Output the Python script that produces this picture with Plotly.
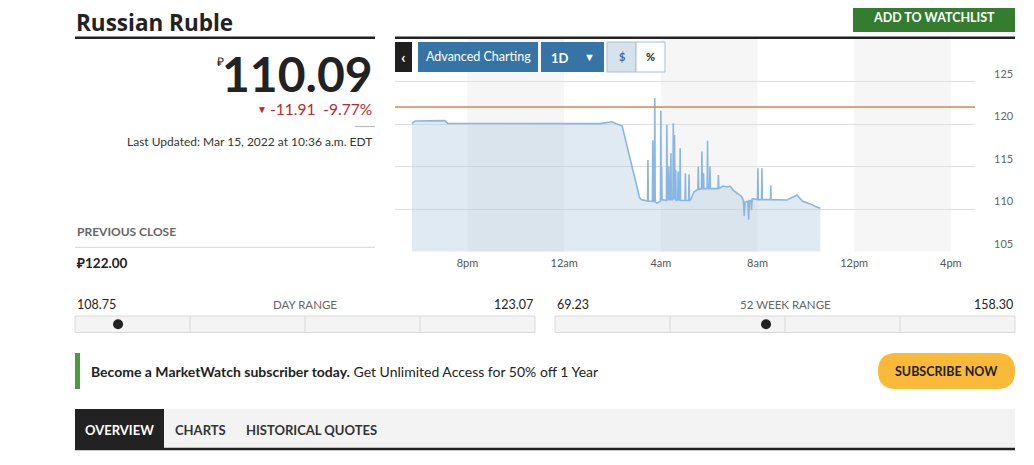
import plotly.graph_objects as go

W, H = 1034, 465
OFF = 8  # the page body margin pushes the figure 8px right and down

# price series, Mar 14 evening to Mar 15 morning
times = [
    "2022-03-14 17:42", "2022-03-14 17:50", "2022-03-14 19:04", "2022-03-14 19:11",
    "2022-03-15 01:30", "2022-03-15 01:58", "2022-03-15 02:24", "2022-03-15 03:07",
    "2022-03-15 03:12", "2022-03-15 03:20", "2022-03-15 03:27", "2022-03-15 03:28",
    "2022-03-15 03:29", "2022-03-15 03:39", "2022-03-15 03:40", "2022-03-15 03:41",
    "2022-03-15 03:44", "2022-03-15 03:45", "2022-03-15 03:46", "2022-03-15 03:50",
    "2022-03-15 03:59", "2022-03-15 04:00", "2022-03-15 04:01", "2022-03-15 04:02",
    "2022-03-15 04:03", "2022-03-15 04:04", "2022-03-15 04:14", "2022-03-15 04:15",
    "2022-03-15 04:16", "2022-03-15 04:19", "2022-03-15 04:20", "2022-03-15 04:21",
    "2022-03-15 04:24", "2022-03-15 04:25", "2022-03-15 04:26", "2022-03-15 04:30",
    "2022-03-15 04:31", "2022-03-15 04:32", "2022-03-15 04:34", "2022-03-15 04:35",
    "2022-03-15 04:37", "2022-03-15 04:38", "2022-03-15 04:42", "2022-03-15 04:43",
    "2022-03-15 04:44", "2022-03-15 04:47", "2022-03-15 04:48", "2022-03-15 04:49",
    "2022-03-15 05:00", "2022-03-15 05:01", "2022-03-15 05:02", "2022-03-15 05:09",
    "2022-03-15 05:10", "2022-03-15 05:11", "2022-03-15 05:14", "2022-03-15 05:22",
    "2022-03-15 05:28", "2022-03-15 05:32", "2022-03-15 05:33", "2022-03-15 05:34",
    "2022-03-15 05:41", "2022-03-15 05:42", "2022-03-15 05:43", "2022-03-15 05:45",
    "2022-03-15 05:46", "2022-03-15 05:47", "2022-03-15 05:55", "2022-03-15 05:56",
    "2022-03-15 05:57", "2022-03-15 06:01", "2022-03-15 06:02", "2022-03-15 06:03",
    "2022-03-15 06:22", "2022-03-15 06:23", "2022-03-15 06:24", "2022-03-15 06:35",
    "2022-03-15 06:45", "2022-03-15 06:52", "2022-03-15 07:00", "2022-03-15 07:10",
    "2022-03-15 07:20", "2022-03-15 07:25", "2022-03-15 07:27", "2022-03-15 07:29",
    "2022-03-15 07:36", "2022-03-15 07:38", "2022-03-15 07:40", "2022-03-15 07:44",
    "2022-03-15 07:45", "2022-03-15 07:47", "2022-03-15 08:00", "2022-03-15 08:01",
    "2022-03-15 08:02", "2022-03-15 08:10", "2022-03-15 08:11", "2022-03-15 08:12",
    "2022-03-15 08:32", "2022-03-15 08:33", "2022-03-15 08:34", "2022-03-15 09:13",
    "2022-03-15 09:38", "2022-03-15 09:52", "2022-03-15 10:11", "2022-03-15 10:24",
    "2022-03-15 10:36",
]
prices = [
    120.08, 120.35, 120.40, 120.08,
    120.05, 120.27, 119.76, 111.38,
    111.10, 111.00, 110.95, 115.76,
    110.95, 110.90, 118.10, 110.90,
    110.95, 123.07, 110.85, 110.70,
    110.90, 121.57, 111.00, 114.98,
    111.00, 111.10, 111.00, 119.88,
    111.10, 111.10, 115.00, 111.10,
    111.10, 116.55, 111.10, 111.10,
    120.08, 111.20, 118.70, 111.10,
    114.60, 111.00, 111.10, 114.40,
    111.10, 111.00, 117.14, 111.00,
    111.00, 114.20, 111.00, 111.00,
    114.10, 111.00, 111.06, 112.00,
    112.20, 112.30, 114.98, 112.30,
    112.40, 116.75, 112.40, 112.40,
    114.20, 112.40, 112.40, 118.04,
    112.40, 112.40, 115.00, 112.40,
    112.40, 114.00, 112.45, 112.70,
    112.60, 112.70, 112.20, 111.84,
    111.50, 111.06, 109.18, 110.80,
    110.90, 108.75, 111.00, 111.00,
    109.88, 111.20, 111.10, 114.80,
    111.10, 111.10, 114.80, 111.10,
    111.10, 112.75, 111.10, 111.06,
    111.65, 110.90, 110.60, 110.30,
    110.09,
]

previous_close = 122.00
last_price = 110.09
change = -11.91
change_pct = -9.77
day_low, day_high = 108.75, 123.07
week52_low, week52_high = 69.23, 158.30

x_range = ["2022-03-14 17:00", "2022-03-15 17:00"]
x_tickvals = ["2022-03-14 20:00", "2022-03-15 00:00", "2022-03-15 04:00",
              "2022-03-15 08:00", "2022-03-15 12:00", "2022-03-15 16:00"]
x_ticktext = ["8pm", "12am", "4am", "8am", "12pm", "4pm"]
y_tickvals = [105, 110, 115, 120, 125]
bands = [("2022-03-14 20:00", "2022-03-15 00:00"),
         ("2022-03-15 04:00", "2022-03-15 08:00"),
         ("2022-03-15 12:00", "2022-03-15 16:00")]

FONT = "Lato, 'Open Sans', sans-serif"
TITLE_FONT = "'Open Sans', Lato, sans-serif"


def fx(p):
    return (p - OFF) / W


def fy(p):
    return 1 - (p - OFF) / H


def rect(x0, y0, x1, y1, fill, line=None, lw=0, layer="above"):
    return dict(type="rect", xref="paper", yref="paper",
                x0=fx(x0), x1=fx(x1), y0=fy(y0), y1=fy(y1),
                fillcolor=fill, line=dict(color=line or fill, width=lw), layer=layer)


def hline(x0, x1, y, color, width=1, layer="above"):
    return dict(type="line", xref="paper", yref="paper",
                x0=fx(x0), x1=fx(x1), y0=fy(y), y1=fy(y),
                line=dict(color=color, width=width), layer=layer)


def vline(x, y0, y1, color, width=1, layer="above"):
    return dict(type="line", xref="paper", yref="paper",
                x0=fx(x), x1=fx(x), y0=fy(y0), y1=fy(y1),
                line=dict(color=color, width=width), layer=layer)


def text(x, y, s, size=12, color="#222", weight="normal", xanchor="left", family=FONT):
    return dict(xref="paper", yref="paper", x=fx(x), y=fy(y), text=s,
                showarrow=False, xanchor=xanchor, yanchor="middle",
                font=dict(family=family, size=size, color=color, weight=weight))


fig = go.Figure()

fig.add_trace(go.Scatter(
    x=times, y=prices, mode="lines", fill="tozeroy",
    line=dict(color="#8ab6e2", width=1.6),
    fillcolor="rgba(178,203,222,0.40)", hoverinfo="skip"))

# range bar dots
fig.add_trace(go.Scatter(x=[last_price], y=[0], xaxis="x2", yaxis="y2", mode="markers",
                         marker=dict(size=10, color="#222"), hoverinfo="skip"))
fig.add_trace(go.Scatter(x=[last_price], y=[0], xaxis="x3", yaxis="y3", mode="markers",
                         marker=dict(size=10, color="#222"), hoverinfo="skip"))

shapes = []
for b0, b1 in bands:
    shapes.append(dict(type="rect", xref="x", yref="y domain", x0=b0, x1=b1, y0=0, y1=1,
                       fillcolor="#f6f6f6", line=dict(width=0), layer="below"))
shapes.append(dict(type="line", xref="x domain", yref="y", x0=0, x1=1,
                   y0=previous_close, y1=previous_close,
                   line=dict(color="#d7844c", width=1.3), layer="above"))

# header rules
shapes.append(hline(75, 375, 37.7, "#222", 2.5))
shapes.append(hline(395, 1015, 37.7, "#222", 2.5))
shapes.append(rect(853, 2, 1015, 32, "#347d2f"))

# chart toolbar
shapes.append(rect(395, 42, 412, 72, "#1f1f1f"))
shapes.append(rect(418, 42, 538, 72, "#3674a6"))
shapes.append(rect(541, 42, 604, 72, "#3674a6"))
shapes.append(rect(607, 42, 636, 72, "#d6e2ec", "#a5c0d8", 1))
shapes.append(rect(636, 42, 665, 72, "#ffffff", "#a5c0d8", 1))

# left block
shapes.append(hline(355, 375, 126.5, "#bbbbbb", 1.2))
shapes.append(hline(75, 375, 247.3, "#dddddd", 1.2))

# range bars
for bx0, bx1 in [(75, 535), (555, 1015)]:
    shapes.append(rect(bx0, 316, bx1, 332.5, "#f4f4f4", "#d9d9d9", 1, layer="below"))
    step = (bx1 - bx0) / 4
    for k in range(1, 4):
        shapes.append(vline(bx0 + k * step, 316, 332.5, "#d9d9d9", 1, layer="below"))

# subscribe banner
shapes.append(rect(75, 353, 80, 389, "#4a9c3c"))
shapes.append(dict(type="path", xref="paper", yref="paper",
                   path=(f"M {fx(896)},{fy(353)} L {fx(997)},{fy(353)} "
                         f"Q {fx(1015)},{fy(353)} {fx(1015)},{fy(371)} "
                         f"Q {fx(1015)},{fy(389)} {fx(997)},{fy(389)} "
                         f"L {fx(896)},{fy(389)} Q {fx(878)},{fy(389)} {fx(878)},{fy(371)} "
                         f"Q {fx(878)},{fy(353)} {fx(896)},{fy(353)} Z"),
                   fillcolor="#fbb939", line=dict(width=0), layer="above"))

# tabs
shapes.append(rect(75, 409, 1015, 449, "#f3f3f3"))
shapes.append(rect(75, 409, 164, 449, "#222222"))
shapes.append(hline(75, 1015, 449, "#222", 2.5))

annotations = [
    text(74, 22.5, "Russian Ruble", 22.5, "#222", "bold", "left", TITLE_FONT),
    text(934, 17.5, "ADD TO WATCHLIST", 12.5, "#ffffff", "bold", "center"),
    text(375, 73, f"{last_price:.2f}", 48, "#222", "bold", "right"),
    text(220, 61, "₽", 12, "#222", "normal", "center"),
    text(374, 109.5, f"{change:.2f}&nbsp;&nbsp;{change_pct:.2f}%", 15.5, "#c0262d", "normal", "right"),
    text(262, 109.5, "▼", 10, "#c0262d", "normal", "center"),
    text(374, 141.5, "Last Updated: Mar 15, 2022 at 10:36 a.m. EDT", 12, "#333", "normal", "right"),
    text(75, 231.5, "PREVIOUS CLOSE", 12, "#666", "bold"),
    text(74, 263, f"₽{previous_close:.2f}", 13.5, "#222", "bold"),
    # toolbar labels
    text(403.5, 57, "‹", 16, "#ffffff", "bold", "center"),
    text(478, 57, "Advanced Charting", 12.5, "#ffffff", "normal", "center"),
    text(559.5, 57.5, "1D", 13, "#ffffff", "bold", "center"),
    text(589.5, 57, "▼", 11, "#ffffff", "normal", "center"),
    text(621.5, 57, "$", 11, "#3a6e9b", "bold", "center"),
    text(650.5, 57, "%", 11, "#222", "bold", "center"),
    # ranges
    text(75, 304, f"{day_low:.2f}", 12.5, "#222"),
    text(305, 304, "DAY RANGE", 11.5, "#666", "normal", "center"),
    text(535, 304, f"{day_high:.2f}", 12.5, "#222", "normal", "right"),
    text(555, 304, f"{week52_low:.2f}", 12.5, "#222"),
    text(785, 304, "52 WEEK RANGE", 11.5, "#666", "normal", "center"),
    text(1015, 304, f"{week52_high:.2f}", 12.5, "#222", "normal", "right"),
    # banner
    text(89, 371.5, "<b>Become a MarketWatch subscriber today.</b> Get Unlimited Access for 50% off 1 Year",
         14, "#222"),
    text(946.5, 371, "SUBSCRIBE NOW", 12.5, "#222", "bold", "center"),
    # tabs
    text(119.5, 430, "OVERVIEW", 13, "#ffffff", "bold", "center"),
    text(200, 430, "CHARTS", 13, "#333", "bold", "center"),
    text(311, 430, "HISTORICAL QUOTES", 13, "#333", "bold", "center"),
]

fig.update_layout(
    width=W, height=H,
    margin=dict(l=0, r=0, t=0, b=0),
    paper_bgcolor="#ffffff", plot_bgcolor="rgba(0,0,0,0)",
    showlegend=False,
    font=dict(family=FONT, color="#333"),
    shapes=shapes,
    annotations=annotations,
    xaxis=dict(type="date", range=x_range, domain=[fx(395), fx(975)],
               tickvals=x_tickvals, ticktext=x_ticktext, showgrid=False,
               zeroline=False, showline=False, ticks="",
               tickfont=dict(size=11, color="#555", family=FONT), ticklabelstandoff=3),
    yaxis=dict(range=[105, 130.12], domain=[fy(251.5), fy(38)], side="right",
               tickvals=y_tickvals, gridcolor="#dedede", gridwidth=1, zeroline=False,
               ticks="", ticklabelposition="outside top", ticklabelstandoff=18,
               tickfont=dict(size=11, color="#666", family=FONT)),
    xaxis2=dict(domain=[fx(75), fx(535)], range=[day_low, day_high], visible=False,
                anchor="y2", fixedrange=True),
    yaxis2=dict(domain=[fy(332.5), fy(316)], range=[-1, 1], visible=False,
                anchor="x2", fixedrange=True),
    xaxis3=dict(domain=[fx(555), fx(1015)], range=[week52_low, week52_high], visible=False,
                anchor="y3", fixedrange=True),
    yaxis3=dict(domain=[fy(332.5), fy(316)], range=[-1, 1], visible=False,
                anchor="x3", fixedrange=True),
)

fig.write_html("out.html", config={"displayModeBar": False})
